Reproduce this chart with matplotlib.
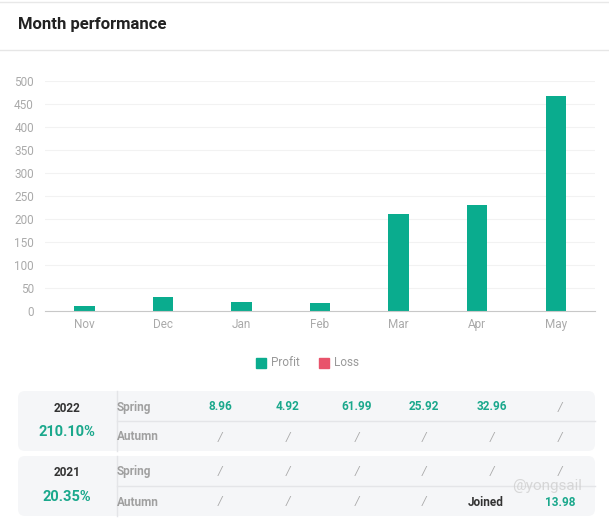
import matplotlib
matplotlib.use("Agg")
import matplotlib.pyplot as plt
from matplotlib.patches import FancyBboxPatch, Rectangle

plt.rcParams['font.family'] = ['Roboto', 'DejaVu Sans']

months = ["Nov", "Dec", "Jan", "Feb", "Mar", "Apr", "May"]
profit = [11, 31, 20, 17, 210, 231, 468]
yticks = [0, 50, 100, 150, 200, 250, 300, 350, 400, 450, 500]

years = ["2022", "2021"]
year_totals = ["210.10%", "20.35%"]
seasons = ["Spring", "Autumn"]
cells = {
    "2022": [["8.96", "4.92", "61.99", "25.92", "32.96", "/"],
             ["/", "/", "/", "/", "/", "/"]],
    "2021": [["/", "/", "/", "/", "/", "/"],
             ["/", "/", "/", "/", "Joined", "13.98"]],
}

GREEN = "#0aac8e"
RED = "#e8536b"
W, H = 609, 525

fig = plt.figure(figsize=(W / 100, H / 100), dpi=100)

# overlay in pixel coords (y down)
ov = fig.add_axes([0, 0, 1, 1], zorder=0)
ov.set_xlim(0, W)
ov.set_ylim(H, 0)
ov.axis("off")

ov.plot([0, W], [2, 2], color="#e8e8e8", lw=1)
ov.plot([0, W], [50, 50], color="#e6e6e6", lw=1)
ov.text(18, 25, "Month performance", fontsize=12, fontweight="bold",
        color="#222222", va="center", ha="left")

# bar chart
ax = fig.add_axes([45 / W, (H - 311) / H, 550 / W, 230 / H], zorder=1)
ax.patch.set_alpha(0)
x = range(len(months))
ax.bar(x, profit, width=0.26, color=GREEN, zorder=2)
ax.set_xlim(-0.5, len(months) - 0.5)
ax.set_ylim(0, 500)
ax.set_yticks(yticks)
ax.set_xticks(list(x))
ax.set_xticklabels(months)
ax.grid(axis="y", color="#f2f2f2", lw=0.8, zorder=0)
for s in ["top", "right", "left"]:
    ax.spines[s].set_visible(False)
ax.spines["bottom"].set_color("#c8c8c8")
ax.tick_params(axis="both", length=0, labelsize=8.5, colors="#aaaaaa")
ax.tick_params(axis="x", pad=5)
ax.tick_params(axis="y", pad=8)

# legend
ov.add_patch(Rectangle((256, 358), 10, 10, color=GREEN))
ov.text(271, 363, "Profit", fontsize=8.5, color="#999999", va="center")
ov.add_patch(Rectangle((319, 358), 10, 10, color=RED))
ov.text(334, 363, "Loss", fontsize=8.5, color="#999999", va="center")

# table
col_x = [220, 288, 357, 424, 492, 560]
box_tops = [391, 456]
box_h = 60
for yr, tot, top in zip(years, year_totals, box_tops):
    ov.add_patch(FancyBboxPatch((18, top), 577, box_h,
                                boxstyle="round,pad=0,rounding_size=7",
                                fc="#f5f6f8", ec="none"))
    ov.plot([116.5, 116.5], [top, top + box_h], color="#e4e5e8", lw=1)
    mid = top + box_h / 2
    ov.plot([117, 595], [mid, mid], color="#e4e5e8", lw=1)
    ov.text(67, top + 17, yr, fontsize=8.5, fontweight="bold",
            color="#333333", ha="center", va="center")
    ov.text(67, top + 41, tot, fontsize=10.5, fontweight="bold",
            color="#1aa88c", ha="center", va="center")
    for r, season in enumerate(seasons):
        yy = top + 16 + r * 30
        ov.text(117, yy, season, fontsize=8.5, fontweight="bold",
                color="#a0a0a0", ha="left", va="center")
        for cx, val in zip(col_x, cells[yr][r]):
            if val == "/":
                ov.text(cx, yy, "/", fontsize=8.5, color="#aaaaaa",
                        ha="center", va="center", style="italic")
            elif val == "Joined":
                ov.text(cx - 6, yy, val, fontsize=8.5, fontweight="bold",
                        color="#333333", ha="center", va="center")
            else:
                ov.text(cx, yy, val, fontsize=8.5, fontweight="bold",
                        color="#1aa88c", ha="center", va="center")

# watermark
ov.text(512, 486, "@yongsail", fontsize=11, color="#cfcfcf", ha="left",
        va="center", alpha=0.8)

fig.savefig("out.png", dpi=100)
